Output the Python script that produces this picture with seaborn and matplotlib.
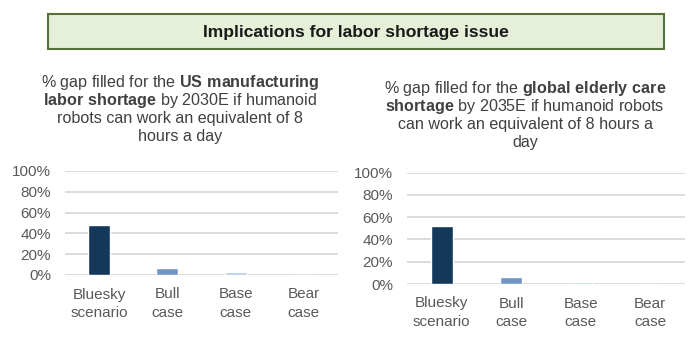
import matplotlib
matplotlib.use("Agg")
import matplotlib.pyplot as plt
import seaborn as sns
import pandas as pd
from matplotlib.patches import Rectangle
from matplotlib.ticker import PercentFormatter

# Data
categories = ["Bluesky\nscenario", "Bull\ncase", "Base\ncase", "Bear\ncase"]
us_manufacturing_gap = [0.48, 0.065, 0.03, 0.0]
elderly_care_gap = [0.52, 0.065, 0.02, 0.0]
bar_colors = ["#14385a", "#7096c6", "#b4cde8", "#dce6f2"]

header = "Implications for labor shortage issue"
left_title = ["% gap filled for the $\\bf{US\\ manufacturing}$",
              "$\\bf{labor\\ shortage}$ by 2030E if humanoid",
              "robots can work an equivalent of 8",
              "hours a day"]
right_title = ["% gap filled for the $\\bf{global\\ elderly\\ care}$",
               "$\\bf{shortage}$ by 2035E if humanoid robots",
               "can work an equivalent of 8 hours a",
               "day"]

sns.set_style("white")
plt.rcParams['font.family'] = ['Liberation Sans', 'DejaVu Sans']
plt.rcParams['mathtext.fontset'] = 'custom'
plt.rcParams['mathtext.rm'] = 'Liberation Sans'
plt.rcParams['mathtext.bf'] = 'Liberation Sans:bold'

W, H = 694, 356
fig = plt.figure(figsize=(W / 100, H / 100), dpi=100)
fig.patch.set_facecolor("white")

# header box
fig.patches.append(Rectangle((48 / W, 1 - 49 / H), (664 - 48) / W, 35 / H,
                             transform=fig.transFigure, facecolor="#e6efd7",
                             edgecolor="#56703a", linewidth=1.5))
fig.text(356 / W, 1 - 33 / H, header, ha="center", va="center",
         fontsize=12.6, fontweight="bold", color="#1a1a1a")

# panel subtitles, one text per line
for i, line in enumerate(left_title):
    fig.text(180 / W, 1 - (82 + 18.3 * i) / H, line, ha="center",
             va="center", fontsize=11.6, color="#404040")
for i, line in enumerate(right_title):
    fig.text(525 / W, 1 - (88 + 18.3 * i) / H, line, ha="center",
             va="center", fontsize=11.6, color="#404040")


def draw_panel(rect, values):
    ax = fig.add_axes(rect)
    df = pd.DataFrame({"scenario": categories, "gap": values})
    sns.barplot(data=df, x="scenario", y="gap", hue="scenario",
                palette=bar_colors, legend=False, width=0.32,
                saturation=1, ax=ax)
    ax.set_ylim(0, 1)
    ax.set_yticks([0, 0.2, 0.4, 0.6, 0.8, 1.0])
    ax.yaxis.set_major_formatter(PercentFormatter(1.0, decimals=0))
    ax.grid(axis="y", color="#d9d9d9", linewidth=1.3)
    ax.set_axisbelow(True)
    sns.despine(ax=ax, left=True, bottom=True)
    ax.set_xlabel("")
    ax.set_ylabel("")
    ax.tick_params(axis="both", length=0, labelsize=11, labelcolor="#595959")
    ax.tick_params(axis="y", pad=10)
    ax.tick_params(axis="x", pad=9)
    for lbl in ax.get_xticklabels():
        lbl.set_linespacing(1.4)
    return ax


draw_panel([65 / W, 1 - 275 / H, 273 / W, 104 / H], us_manufacturing_gap)
draw_panel([407 / W, 1 - 284 / H, 278 / W, 111.5 / H], elderly_care_gap)

fig.savefig("out.png", dpi=100)
